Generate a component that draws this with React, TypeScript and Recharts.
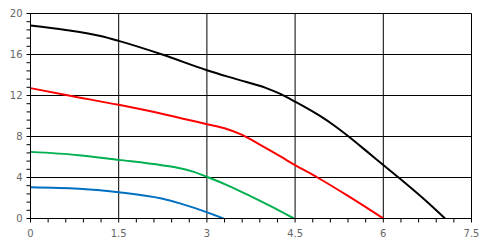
import React from "react";
import { LineChart, Line, XAxis, YAxis, CartesianGrid } from "recharts";

const blackX = [0, 0.6, 1.19, 1.5, 2.24, 3, 3.5, 4.0, 4.25, 4.5, 4.93, 5.17, 5.41, 5.73, 6.01, 6.26, 6.7, 7.05];
const blackY = [18.83, 18.4, 17.8, 17.33, 16, 14.47, 13.6, 12.75, 12.15, 11.4, 9.98, 9.05, 8, 6.5, 5.17, 4, 1.85, 0];

const redX = [0, 0.65, 1.5, 2.25, 3.0, 3.3, 3.6, 3.9, 4.25, 4.5, 4.88, 5.4, 6.0];
const redY = [12.72, 12.0, 11.09, 10.2, 9.2, 8.8, 8.15, 7.2, 6.05, 5.2, 4.0, 2.2, 0];

const greenX = [0, 0.82, 1.5, 2.23, 2.5, 2.75, 3.03, 3.37, 3.74, 4.1, 4.48];
const greenY = [6.5, 6.18, 5.72, 5.2, 4.95, 4.6, 4.0, 3.19, 2.18, 1.15, 0];

const blueX = [0, 0.82, 1.5, 2.23, 2.57, 3.03, 3.28];
const blueY = [3.05, 2.9, 2.57, 1.95, 1.43, 0.55, 0];

const xMajor = [0, 1.5, 3, 4.5, 6, 7.5];
const yMajor = [0, 4, 8, 12, 16, 20];
const xMinorStep = 0.3;
const yMinorStep = 0.8;
const xMax = 7.5;
const yMax = 20;

const mk = (xs: number[], ys: number[]) => xs.map((x, i) => ({ x, y: ys[i] }));
const seq = (max: number, step: number) => {
  const out: number[] = [];
  const n = Math.round(max / step);
  for (let i = 0; i <= n; i++) out.push(Math.round(i * step * 1000) / 1000);
  return out;
};

const xTicks = seq(xMax, xMinorStep);
const yTicks = seq(yMax, yMinorStep);

const isMajor = (v: number, majors: number[]) => majors.some((m) => Math.abs(m - v) < 1e-6);

const FONT = "DejaVu Sans, Verdana, sans-serif";

const XTick = (props: any) => {
  const { x, y, payload } = props;
  if (!isMajor(payload.value, xMajor)) return <g />;
  return (
    <text x={x} y={y} dy={12.5} textAnchor="middle" fill="#666" fontSize={10} fontFamily={FONT}>
      {payload.value}
    </text>
  );
};

const YTick = (props: any) => {
  const { x, y, payload } = props;
  if (!isMajor(payload.value, yMajor)) return <g />;
  return (
    <text x={x} y={y} dx={-2} dy={3.6} textAnchor="end" fill="#666" fontSize={10} fontFamily={FONT}>
      {payload.value}
    </text>
  );
};

const series = [
  { name: "black", color: "#000000", data: mk(blackX, blackY) },
  { name: "red", color: "#ff0000", data: mk(redX, redY) },
  { name: "green", color: "#00b050", data: mk(greenX, greenY) },
  { name: "blue", color: "#0070c0", data: mk(blueX, blueY) },
];

export default function App() {
  return (
    <div style={{ position: "absolute", left: 0, top: 0, width: 487, height: 252, background: "#fff" }}>
      <LineChart width={487} height={252} margin={{ top: 13.5, right: 15.5, left: 0, bottom: 0 }}>
        <CartesianGrid
          stroke="#000"
          strokeWidth={1}
          verticalCoordinatesGenerator={({ offset }: any) =>
            xMajor.map((v) => offset.left + (v / xMax) * offset.width)
          }
          horizontalCoordinatesGenerator={({ offset }: any) =>
            yMajor.map((v) => offset.top + (1 - v / yMax) * offset.height)
          }
        />
        <XAxis
          dataKey="x"
          type="number"
          domain={[0, xMax]}
          ticks={xTicks}
          interval={0}
          height={33.5}
          tickSize={4}
          tickMargin={2}
          tick={XTick}
          axisLine={{ stroke: "#000" }}
          tickLine={{ stroke: "#000" }}
          allowDataOverflow
        />
        <YAxis
          type="number"
          domain={[0, yMax]}
          ticks={yTicks}
          interval={0}
          width={30.5}
          tickSize={4}
          tickMargin={2}
          tick={YTick}
          axisLine={{ stroke: "#000" }}
          tickLine={{ stroke: "#000" }}
          allowDataOverflow
        />
        {series.map((s) => (
          <Line
            key={s.name}
            data={s.data}
            dataKey="y"
            type="monotone"
            stroke={s.color}
            strokeWidth={2}
            dot={false}
            activeDot={false}
            isAnimationActive={false}
          />
        ))}
      </LineChart>
    </div>
  );
}
